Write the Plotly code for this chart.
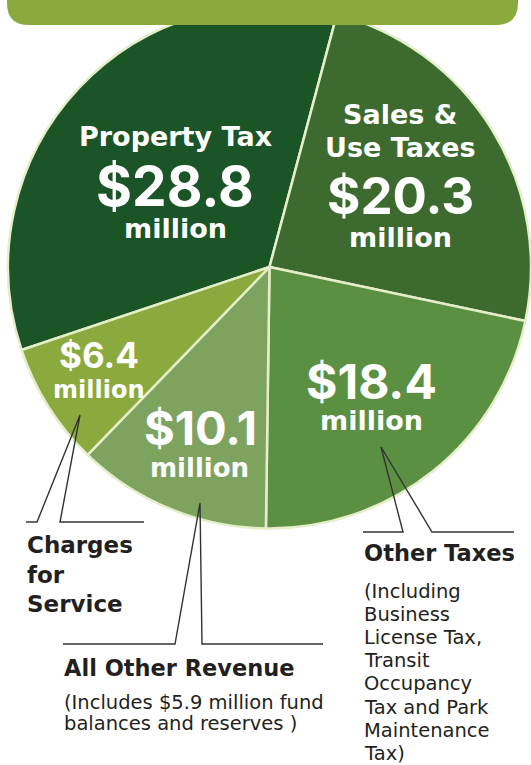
import plotly.graph_objects as go

W, H = 531, 765

categories = ["Property Tax", "Sales & Use Taxes", "Other Taxes", "All Other Revenue", "Charges for Service"]
values = [28.8, 20.3, 18.4, 10.1, 6.4]
colors = ["#1b5426", "#3d6b2f", "#5b8f42", "#7ea35f", "#8aaa3d"]

value_labels = ["$28.8", "$20.3", "$18.4", "$10.1", "$6.4"]
unit_label = "million"

other_taxes_note = ["(Including", "Business", "License Tax,", "Transit", "Occupancy",
                    "Tax and Park", "Maintenance", "Tax)"]
all_other_note = ["(Includes $5.9 million fund", "balances and reserves )"]
charges_title = ["Charges", "for", "Service"]

FONT = "DejaVu Sans"
NUMFONT = "Inter"
DARK = "#231f20"


def px(x):
    return x / W


def py(y):
    return 1 - y / H


fig = go.Figure()
fig.add_trace(go.Pie(
    labels=categories,
    values=values,
    sort=False,
    direction="clockwise",
    rotation=251.5,
    marker=dict(colors=colors, line=dict(color="#e4eec9", width=2.5)),
    textinfo="none",
    hoverinfo="skip",
    showlegend=False,
    domain=dict(x=[8 / W, 1.0], y=[py(529), py(5)]),
))

annotations = []


def add_text(text, x, y, size, bold=True, color="white", xanchor="center", family=FONT):
    t = f"<b>{text}</b>" if bold else text
    annotations.append(dict(
        text=t, x=px(x), y=py(y), xref="paper", yref="paper",
        xanchor=xanchor, yanchor="middle", showarrow=False,
        font=dict(family=family, size=size, color=color),
    ))


# In-slice labels
add_text(categories[0], 175, 136, 27)
add_text(value_labels[0], 175, 186, 55, family=NUMFONT)
add_text(unit_label, 175, 228, 27)

add_text("Sales &", 400, 114, 27)
add_text("Use Taxes", 400, 148, 27)
add_text(value_labels[1], 400, 195, 51, family=NUMFONT)
add_text(unit_label, 400, 237, 27)

add_text(value_labels[2], 371, 381, 48, family=NUMFONT)
add_text(unit_label, 371, 420, 27)

add_text(value_labels[3], 200, 427, 47, family=NUMFONT)
add_text(unit_label, 199, 468, 26)

add_text(value_labels[4], 99, 355, 35, family=NUMFONT)
add_text(unit_label, 99, 390, 24)

# Outside labels
for i, line in enumerate(charges_title):
    add_text(line, 25, 545 + i * 29.5, 23, color=DARK, xanchor="left")

add_text(categories[2], 362, 553, 22.5, color=DARK, xanchor="left")
for i, line in enumerate(other_taxes_note):
    add_text(line, 362, 591 + i * 23.2, 19.5, bold=False, color=DARK, xanchor="left")

add_text(categories[3], 62, 668, 22.5, color=DARK, xanchor="left")
for i, line in enumerate(all_other_note):
    add_text(line, 62, 702 + i * 21.5, 19.5, bold=False, color=DARK, xanchor="left")


def path(points):
    return "M " + " L ".join(f"{px(x)},{py(y)}" for x, y in points)


leader_lines = [
    [(26, 522), (37, 522), (80, 415), (60, 522), (144, 522)],
    [(63, 644), (175, 644), (200, 503), (202, 644), (323, 644)],
    [(363, 532), (403, 532), (381, 447), (432, 532), (514, 532)],
]

shapes = []
for pts in leader_lines:
    shapes.append(dict(type="path", path=path(pts), xref="paper", yref="paper",
                       line=dict(color="#333333", width=1.4), layer="above"))

# top banner with rounded bottom corners
bar = (f"M {px(7)},{py(-2)} L {px(7)},{py(3)} Q {px(7)},{py(25)} {px(29)},{py(25)} "
       f"L {px(496)},{py(25)} Q {px(518)},{py(25)} {px(518)},{py(3)} L {px(518)},{py(-2)} Z")
shapes.append(dict(type="path", path=bar, xref="paper", yref="paper",
                   fillcolor="#8aaa3e", line=dict(width=0), layer="above"))

fig.update_layout(
    width=W, height=H,
    margin=dict(l=0, r=0, t=0, b=0),
    paper_bgcolor="white", plot_bgcolor="white",
    annotations=annotations,
    shapes=shapes,
    showlegend=False,
)

fig.write_html("out.html", config={"displayModeBar": False},
               post_script="document.body.style.margin='0px';")
